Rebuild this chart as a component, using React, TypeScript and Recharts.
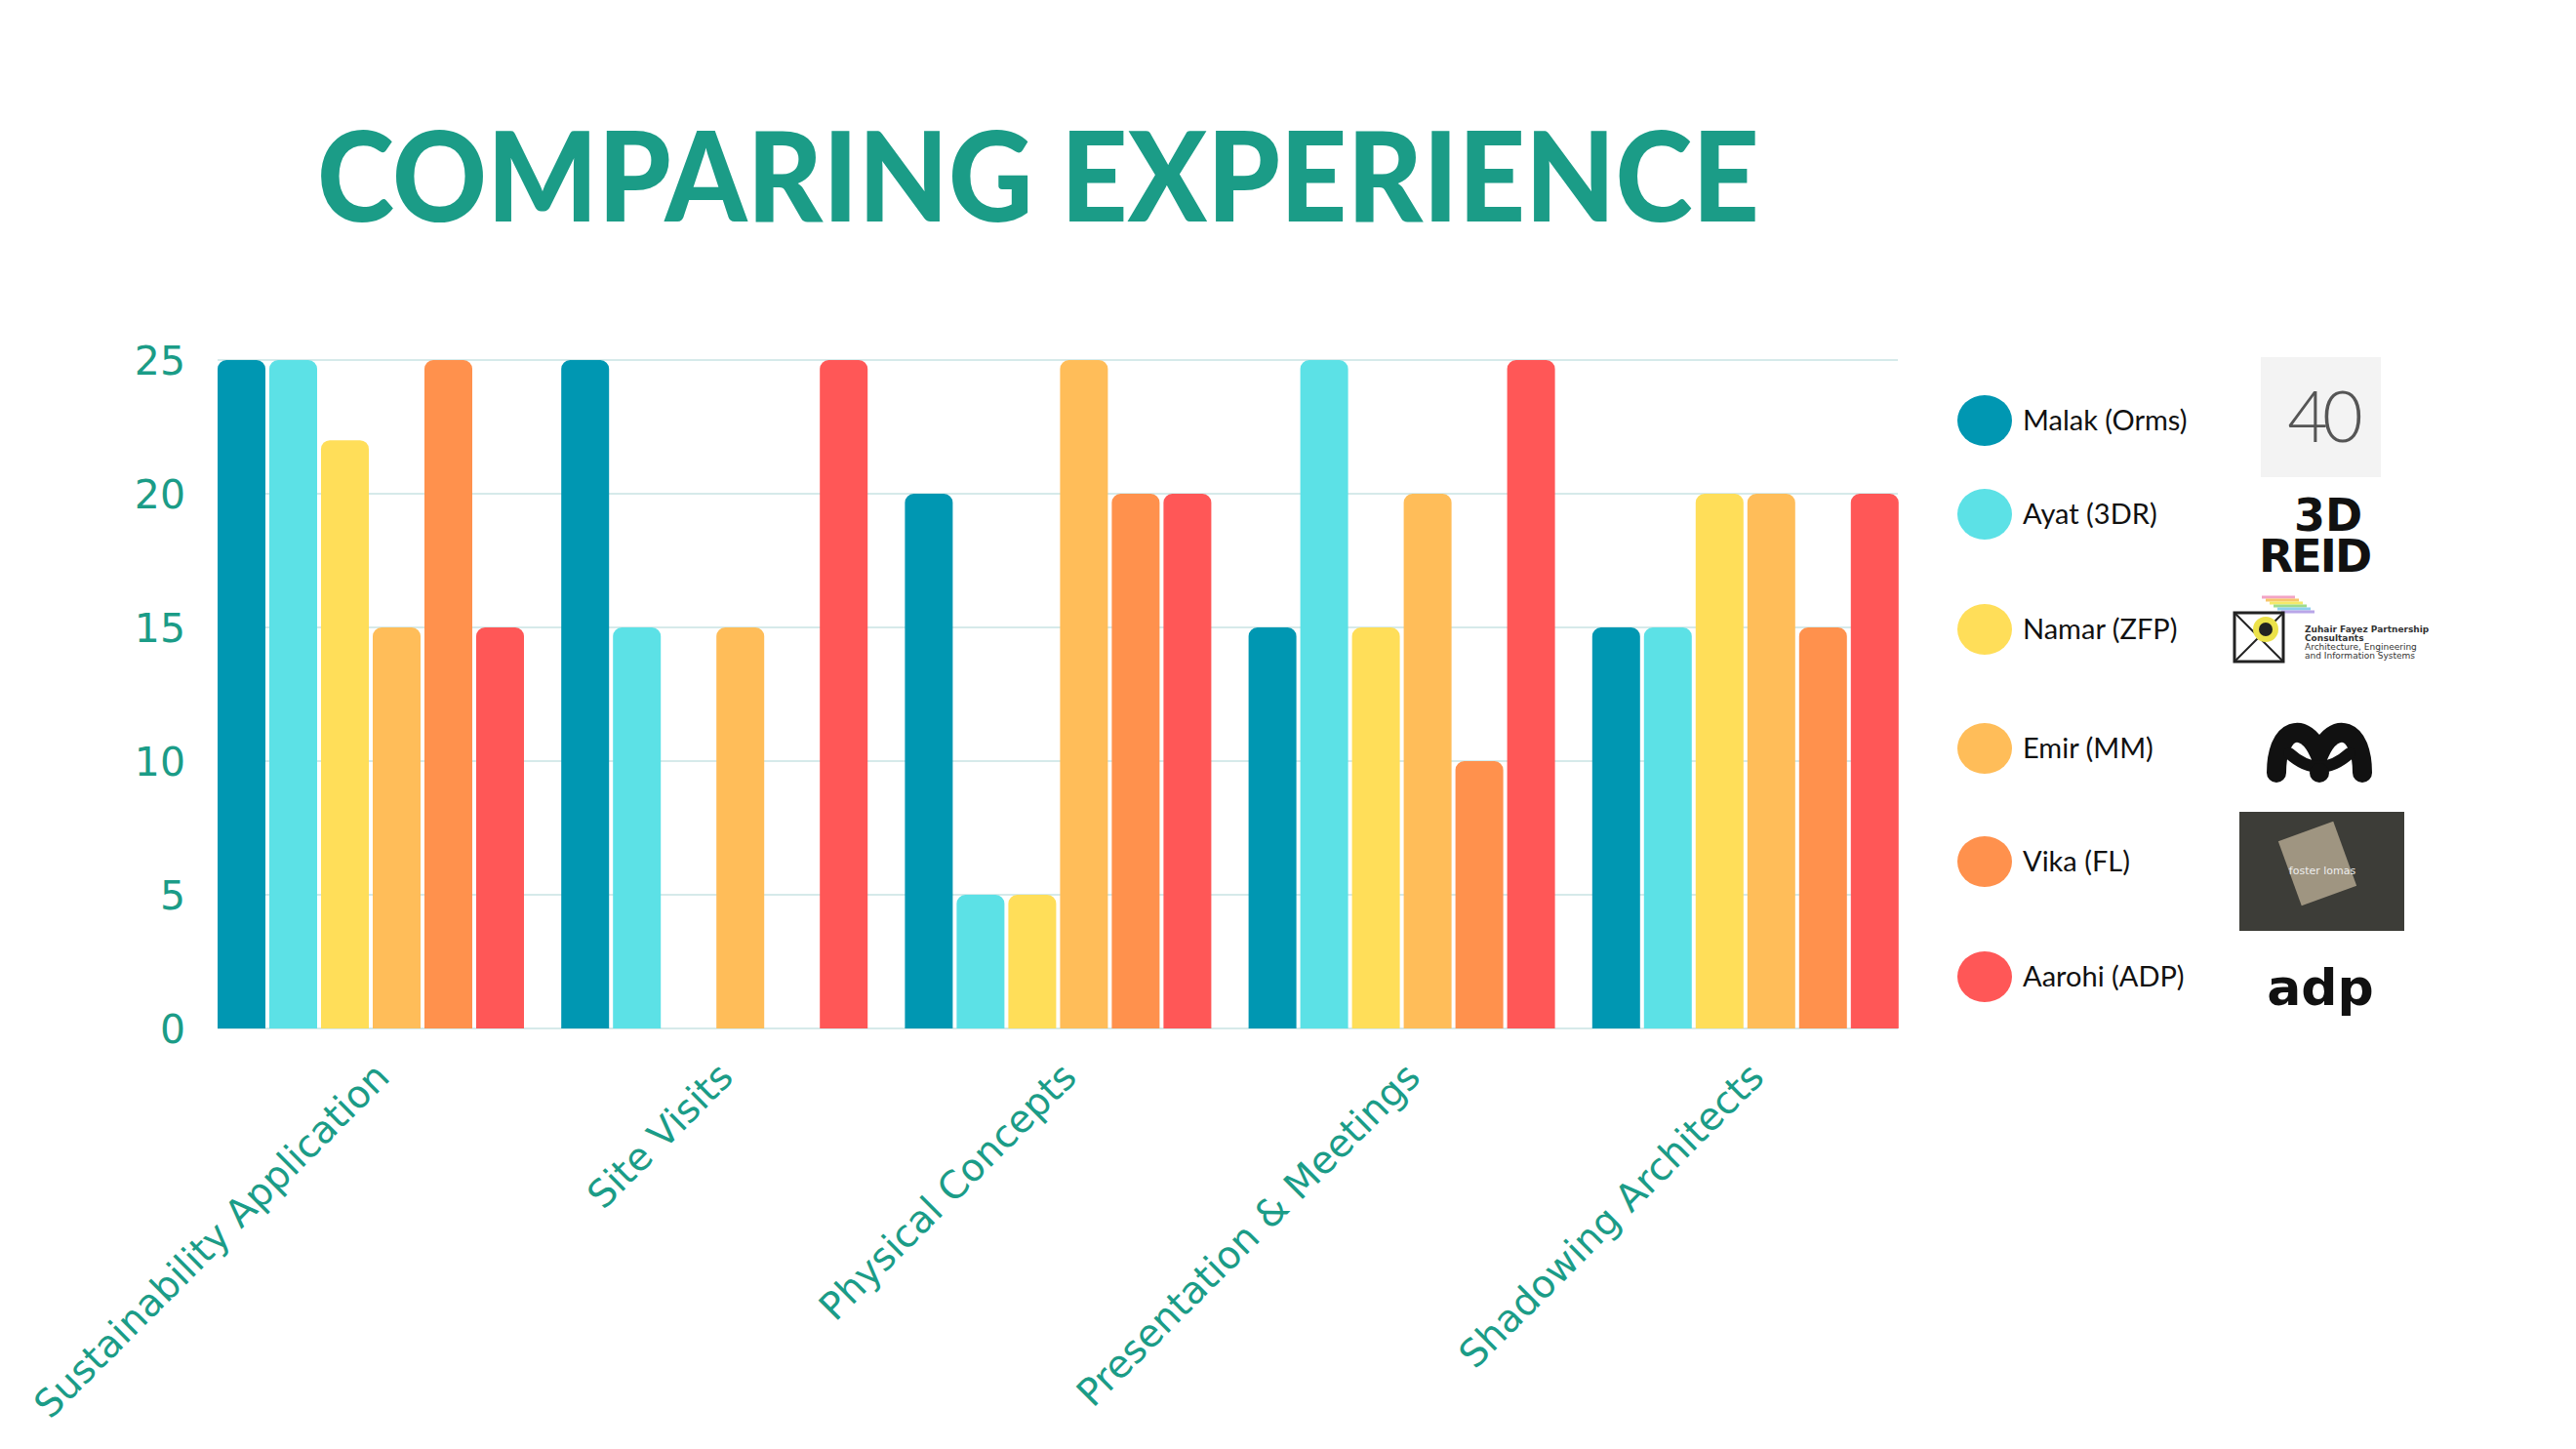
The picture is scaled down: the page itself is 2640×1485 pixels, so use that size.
import { BarChart, Bar, XAxis, YAxis, CartesianGrid } from "recharts";

const categories = [
  "Sustainability Application",
  "Site Visits",
  "Physical Concepts",
  "Presentation & Meetings",
  "Shadowing Architects",
];

const seriesNames = ["Malak (Orms)", "Ayat (3DR)", "Namar (ZFP)", "Emir (MM)", "Vika (FL)", "Aarohi (ADP)"];
const seriesColors = ["#0097b2", "#5ce1e6", "#ffde59", "#ffbd59", "#ff914d", "#ff5757"];

const malak = [25, 25, 20, 15, 15];
const ayat = [25, 15, 5, 25, 15];
const namar = [22, 0, 5, 15, 20];
const emir = [15, 15, 25, 20, 20];
const vika = [25, 0, 20, 10, 15];
const aarohi = [15, 25, 20, 25, 20];

const yTicks = [0, 5, 10, 15, 20, 25];

const seriesValues = [malak, ayat, namar, emir, vika, aarohi];
const keys = ["malak", "ayat", "namar", "emir", "vika", "aarohi"];

const data = categories.map((name, i) => {
  const row: Record<string, string | number> = { name };
  keys.forEach((k, j) => {
    row[k] = seriesValues[j][i];
  });
  return row;
});

const TEAL = "#1b9c87";

// legend row centres (page px)
const legendRowY = [431, 527, 645, 767, 883, 1001];

const AngledTick = (props: any) => {
  const { x, payload } = props;
  const px = x + 21;
  const py = 1106;
  return (
    <text
      x={px}
      y={py}
      transform={`rotate(-45 ${px} ${py})`}
      textAnchor="end"
      fill={TEAL}
      fontSize={39}
      fontFamily="DejaVu Sans"
    >
      {payload.value}
    </text>
  );
};

const zfpStripes = ["#f2a3c4", "#f7c66b", "#f4ea6a", "#9fdc8c", "#8fd0ee", "#b9a6e8"];

function Logos() {
  return (
    <svg width={2640} height={1485} style={{ position: "absolute", left: 0, top: 0, pointerEvents: "none" }}>
      {/* 40 */}
      <rect x={2317} y={366} width={123} height={123} fill="#f3f3f3" />
      <text x={2380} y={453} textAnchor="middle" fontFamily="Lato" fontWeight={300} fontSize={72} fill="#555" letterSpacing={-6}>
        40
      </text>
      {/* 3D REID */}
      <text textAnchor="middle" fontFamily="DejaVu Sans" fontWeight={700} fontSize={46} fill="#111">
        <tspan x={2386} y={544}>3D</tspan>
        <tspan x={2372} y={586} letterSpacing={-2}>REID</tspan>
      </text>
      {/* ZFP */}
      {zfpStripes.map((c, i) => (
        <line key={c} x1={2318 + i * 4} y1={612 + i * 3} x2={2352 + i * 4} y2={612 + i * 3} stroke={c} strokeWidth={3} />
      ))}
      <rect x={2290} y={628} width={50} height={50} fill="none" stroke="#222" strokeWidth={3} />
      <line x1={2290} y1={628} x2={2340} y2={678} stroke="#222" strokeWidth={2} />
      <line x1={2340} y1={628} x2={2290} y2={678} stroke="#222" strokeWidth={2} />
      <circle cx={2322} cy={645} r={13} fill="#ece24a" />
      <circle cx={2322} cy={645} r={7} fill="#222" />
      <text fontFamily="DejaVu Sans" fontSize={9} fill="#333">
        <tspan x={2362} y={648} fontWeight={700}>Zuhair Fayez Partnership</tspan>
        <tspan x={2362} y={657} fontWeight={700}>Consultants</tspan>
        <tspan x={2362} y={666}>Architecture, Engineering</tspan>
        <tspan x={2362} y={675}>and Information Systems</tspan>
      </text>
      {/* MM wave */}
      <path
        d="M2333,792 C2333,745 2362,738 2377,772 C2392,738 2421,745 2421,792"
        fill="none"
        stroke="#111"
        strokeWidth={20}
        strokeLinecap="round"
      />
      <path d="M2346,772 Q2377,800 2408,772" fill="none" stroke="#111" strokeWidth={12} strokeLinecap="round" />
      <circle cx={2377} cy={792} r={10} fill="#111" />
      {/* Foster Lomas photo */}
      <rect x={2295} y={832} width={169} height={122} fill="#3d3d38" />
      <rect x={2345} y={850} width={60} height={70} fill="#b8ab94" opacity={0.8} transform="rotate(-20 2375 885)" />
      <text x={2380} y={896} textAnchor="middle" fontFamily="DejaVu Sans" fontSize={11} fill="#eee">
        foster lomas
      </text>
      {/* adp */}
      <text x={2378} y={1030} textAnchor="middle" fontFamily="DejaVu Sans" fontWeight={700} fontSize={52} fill="#111">
        adp
      </text>
    </svg>
  );
}

function LegendBlock() {
  return (
    <svg width={2640} height={1485} style={{ position: "absolute", left: 0, top: 0, pointerEvents: "none" }}>
      {seriesNames.map((n, i) => (
        <g key={n}>
          <ellipse cx={2034} cy={legendRowY[i]} rx={28} ry={26} fill={seriesColors[i]} />
          <text x={2073} y={legendRowY[i] + 10} fontFamily="Lato" fontSize={29} fill="#111">
            {n}
          </text>
        </g>
      ))}
    </svg>
  );
}

export default function App() {
  return (
    <div style={{ position: "relative", width: 2640, height: 1485, background: "#fff", overflow: "hidden" }}>
      <style>{`body{margin:0}`}</style>
      <svg width={2640} height={300} style={{ position: "absolute", left: 0, top: 0 }}>
        <text
          x={325}
          y={227}
          fontFamily="Lato"
          fontWeight={900}
          fontSize={128}
          fill={TEAL}
          textLength={1478}
          lengthAdjust="spacingAndGlyphs"
        >
          COMPARING EXPERIENCE
        </text>
      </svg>
      <div style={{ position: "absolute", left: 0, top: 0 }}>
        <BarChart
          width={2640}
          height={1485}
          data={data}
          margin={{ top: 369, right: 675, left: 0, bottom: 0 }}
          barCategoryGap={19}
          barGap={4}
        >
          <CartesianGrid vertical={false} stroke="#d6eaea" strokeWidth={2} x={223} width={1722} />
          <XAxis
            dataKey="name"
            height={431}
            interval={0}
            axisLine={false}
            tickLine={false}
            tickSize={0}
            tick={<AngledTick />}
          />
          <YAxis
            width={204}
            domain={[0, 25]}
            ticks={yTicks}
            axisLine={false}
            tickLine={false}
            tickSize={0}
            tickMargin={14}
            tick={{ fill: TEAL, fontSize: 41, fontFamily: "DejaVu Sans" }}
          />
          {keys.map((k, j) => (
            <Bar
              key={k}
              dataKey={k}
              name={seriesNames[j]}
              fill={seriesColors[j]}
              radius={[9, 9, 0, 0]}
              isAnimationActive={false}
            />
          ))}
        </BarChart>
      </div>
      <LegendBlock />
      <Logos />
    </div>
  );
}
